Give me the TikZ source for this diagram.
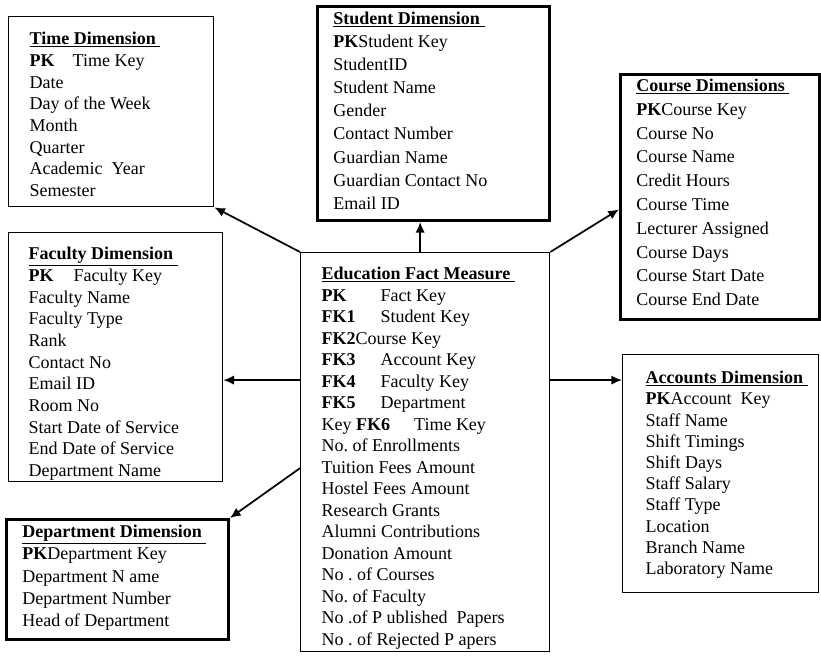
\documentclass[tikz,border=0pt]{standalone}
\usepackage{fontspec}
\setmainfont{Liberation Serif}
\usepackage{tikz}
\usetikzlibrary{arrows.meta}
\usetikzlibrary{calc}

% one pixel of the layout
\newdimen\unitpx
\unitpx=0.75pt

% text of a table: width, height, indent, first baseline, line skip, lines
\newcommand{\tablebox}[6]{%
  \parbox[c][#2\unitpx][t]{#1\unitpx}{%
    \fontsize{13.5pt}{#5\unitpx}\selectfont\frenchspacing
    \leftskip=#3\unitpx\relax
    \noindent\rule{0pt}{#4\unitpx}#6}}
\newcommand{\tabletitle}[1]{\underline{\textbf{#1}\ }}
\newcommand{\keycol}[2]{\makebox[#1\unitpx][l]{\textbf{#2}}}

\tikzset{
  dimbox/.style={draw, anchor=north west, inner sep=0pt, line width=1pt},
  boldbox/.style={dimbox, line width=2.2pt},
  link/.style={line width=1.3pt, -{Latex[length=8pt,width=7pt]}}
}

\begin{document}
\begin{tikzpicture}[x=0.75pt,y=-0.75pt]

  \useasboundingbox (0,0) rectangle (821,663);

  % Fact table in the middle
  \node[dimbox] (fact) at (300,252) {\tablebox{249}{399}{21}{27}{21.5}{%
    \tabletitle{Education Fact Measure}\\
    \keycol{59}{PK}Fact Key\\
    \keycol{59}{FK1}Student Key\\
    \textbf{FK2}Course Key\\
    \keycol{59}{FK3}Account Key\\
    \keycol{59}{FK4}Faculty Key\\
    \keycol{59}{FK5}Department\\
    Key\ \textbf{FK6}\hspace{24\unitpx}Time Key\\
    No. of Enrollments\\
    Tuition Fees Amount\\
    Hostel Fees Amount\\
    Research Grants\\
    Alumni Contributions\\
    Donation Amount\\
    No . of Courses\\
    No. of Faculty\\
    No .of P ublished\ \ Papers\\
    No . of Rejected P apers}};

  % Dimension tables
  \node[dimbox] (time) at (8,16) {\tablebox{205}{190}{21}{28}{21.7}{%
    \tabletitle{Time Dimension}\\
    \textbf{PK}\hspace{18\unitpx}Time Key\\
    Date\\
    Day of the Week\\
    Month\\
    Quarter\\
    Academic\ \ Year\\
    Semester}};

  \node[boldbox] (student) at (316,5) {\tablebox{232}{214}{16}{18}{23.1}{%
    \tabletitle{Student Dimension}\\
    \textbf{PK}Student Key\\
    StudentID\\
    Student Name\\
    Gender\\
    Contact Number\\
    Guardian Name\\
    Guardian Contact No\\
    Email ID}};

  \node[boldbox] (course) at (619,73) {\tablebox{199}{245}{16}{17}{23.8}{%
    \tabletitle{Course Dimensions}\\
    \textbf{PK}Course Key\\
    Course No\\
    Course Name\\
    Credit Hours\\
    Course Time\\
    Lecturer Assigned\\
    Course Days\\
    Course Start Date\\
    Course End Date}};

  \node[dimbox] (faculty) at (8,232) {\tablebox{214}{249}{20}{27}{21.7}{%
    \tabletitle{Faculty Dimension}\\
    \textbf{PK}\hspace{20\unitpx}Faculty Key\\
    Faculty Name\\
    Faculty Type\\
    Rank\\
    Contact No\\
    Email ID\\
    Room No\\
    Start Date of Service\\
    End Date of Service\\
    Department Name}};

  \node[boldbox] (department) at (5,518) {\tablebox{222}{120}{16}{18}{22.3}{%
    \tabletitle{Department Dimension}\\
    \textbf{PK}Department Key\\
    Department N ame\\
    Department Number\\
    Head of Department}};

  \node[dimbox] (accounts) at (622,354) {\tablebox{196}{238}{23}{29}{21.2}{%
    \tabletitle{Accounts Dimension}\\
    \textbf{PK}Account\ \ Key\\
    Staff Name\\
    Shift Timings\\
    Shift Days\\
    Staff Salary\\
    Staff Type\\
    Location\\
    Branch Name\\
    Laboratory Name}};

  % links from the fact table
  \coordinate (fkleft)  at ($(fact.north west)!0.32!(fact.south west)$);
  \coordinate (fkright) at ($(fact.north east)!0.32!(fact.south east)$);
  \coordinate (fkdept)  at ($(fact.north west)!0.54!(fact.south west)$);
  \coordinate (fktop)   at ($(fact.north west)!0.48!(fact.north east)$);
  \coordinate (coursein) at ($(course.south west)!0.45!(course.north west)$);

  \draw[link] (fact.north west) -- (time.south east);
  \draw[link] (fktop) -- (fktop |- student.south);
  \draw[link] (fact.north east) -- (coursein);
  \draw[link] (fkleft) -- (fkleft -| faculty.east);
  \draw[link] (fkright) -- (fkright -| accounts.west);
  \draw[link] (fkdept) -- (department.north east);

\end{tikzpicture}
\end{document}
